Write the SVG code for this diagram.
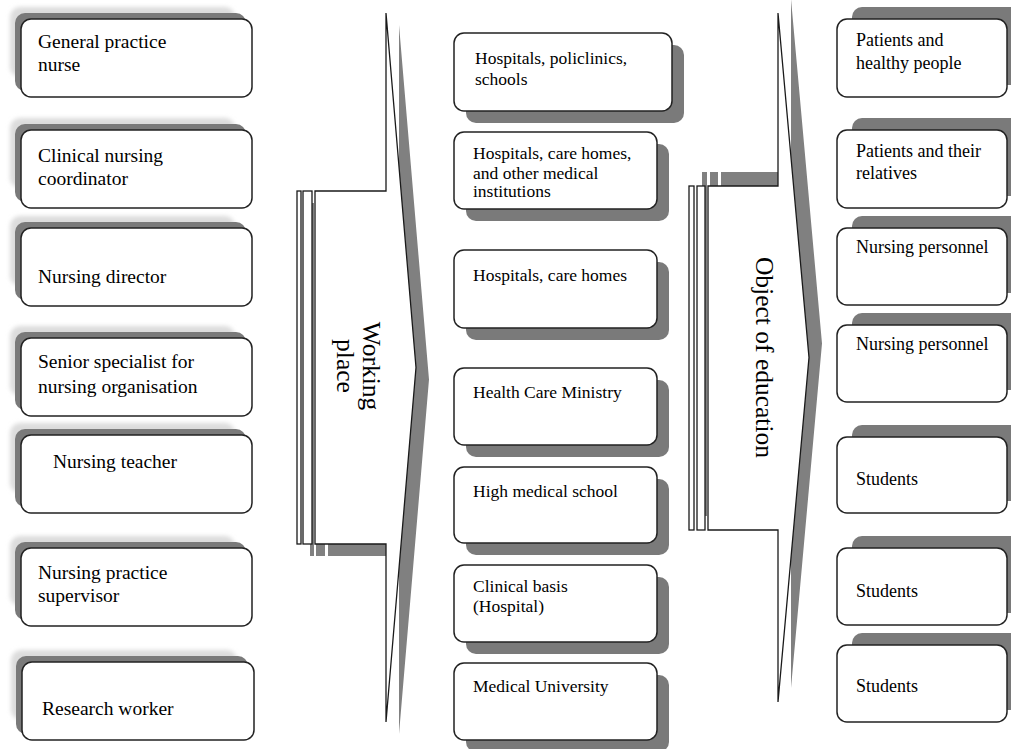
<svg xmlns="http://www.w3.org/2000/svg" width="1011" height="749" viewBox="0 0 1011 749" font-family="'Liberation Serif', 'Times New Roman', serif">
<defs>
<filter id="soft" x="-10%" y="-10%" width="120%" height="120%"><feGaussianBlur stdDeviation="0.6"/></filter>
<filter id="halo" x="-10%" y="-20%" width="120%" height="140%"><feGaussianBlur stdDeviation="2"/></filter>
<style>
.box{fill:#fff;stroke:#222;stroke-width:1.5}
.shd{fill:#7a7a7a;filter:url(#soft)}
.hal{fill:#dcdcdc;filter:url(#halo)}
.arr{fill:#fff;stroke:#1a1a1a;stroke-width:1.3;stroke-linejoin:miter}
.ashd{fill:#808080}
.tl,.tm,.tr,.rot{font-family:'Liberation Serif','Times New Roman',serif;fill:#000}
.tl{font-size:19.5px}
.tm{font-size:17.5px}
.tr{font-size:18px}
.rot{font-size:25.5px;text-anchor:middle}
</style>
</defs>
<rect width="1011" height="749" fill="#fff"/>

<!-- connectors (block arrows) -->
<g id="connectors">
 <g id="arrow-working-place">
  <g class="ashd" transform="translate(13,12)" filter="url(#soft)">
   <path d="M315,191 H386 V13 L416,367.5 L386,722 V544 H315 Z"/>
   <rect x="297" y="191" width="4" height="353"/>
   <rect x="303" y="191" width="9" height="353"/>
  </g>
  <path class="arr" d="M315,191 H386 V13 L416,367.5 L386,722 V544 H315 Z"/>
  <rect class="arr" x="297" y="191" width="4" height="353"/>
  <rect class="arr" x="303" y="191" width="9" height="353"/>
  <text class="rot" font-family="Liberation Serif, serif" transform="translate(363,366) rotate(90)">Working</text>
  <text class="rot" font-family="Liberation Serif, serif" transform="translate(337,366) rotate(90)">place</text>
 </g>
 <g id="arrow-object-of-education">
  <g class="ashd" transform="translate(13,-14)" filter="url(#soft)">
   <path d="M708,186 H778 V13 L809,357.5 L778,702 V530 H708 Z"/>
   <rect x="689" y="186" width="5" height="344"/>
   <rect x="697" y="186" width="8" height="344"/>
  </g>
  <path class="arr" d="M708,186 H778 V13 L809,357.5 L778,702 V530 H708 Z"/>
  <rect class="arr" x="689" y="186" width="5" height="344"/>
  <rect class="arr" x="697" y="186" width="8" height="344"/>
  <text class="rot" font-family="Liberation Serif, serif" transform="translate(756,357.5) rotate(90)">Object of education</text>
 </g>
</g>

<!-- left column -->
<g font-family="Liberation Serif, serif">
<g id="left-general-practice-nurse">
 <rect class="hal" x="10" y="7" width="225" height="70" rx="10"/>
 <rect class="shd" x="15" y="13" width="231" height="78" rx="10"/>
 <rect class="box" x="21" y="19" width="231" height="78" rx="10"/>
 <text class="tl" font-family="Liberation Serif, serif" x="38" y="48">General practice</text>
 <text class="tl" font-family="Liberation Serif, serif" x="38" y="71">nurse</text>
</g>
<g id="left-clinical-nursing-coordinator">
 <rect class="hal" x="10" y="118" width="225" height="70" rx="10"/>
 <rect class="shd" x="15" y="124" width="231" height="78" rx="10"/>
 <rect class="box" x="21" y="130" width="231" height="78" rx="10"/>
 <text class="tl" font-family="Liberation Serif, serif" x="38" y="161.5">Clinical nursing</text>
 <text class="tl" font-family="Liberation Serif, serif" x="38" y="185">coordinator</text>
</g>
<g id="left-nursing-director">
 <rect class="hal" x="10" y="216" width="225" height="70" rx="10"/>
 <rect class="shd" x="15" y="222" width="231" height="78" rx="10"/>
 <rect class="box" x="21" y="228" width="231" height="78" rx="10"/>
 <text class="tl" font-family="Liberation Serif, serif" x="38" y="283">Nursing director</text>
</g>
<g id="left-senior-specialist">
 <rect class="hal" x="10" y="326" width="225" height="70" rx="10"/>
 <rect class="shd" x="15" y="332" width="231" height="78" rx="10"/>
 <rect class="box" x="21" y="338" width="231" height="78" rx="10"/>
 <text class="tl" font-family="Liberation Serif, serif" x="38" y="368">Senior specialist for</text>
 <text class="tl" font-family="Liberation Serif, serif" x="38" y="392.5">nursing organisation</text>
</g>
<g id="left-nursing-teacher">
 <rect class="hal" x="10" y="423" width="225" height="70" rx="10"/>
 <rect class="shd" x="15" y="429" width="231" height="78" rx="10"/>
 <rect class="box" x="21" y="435" width="231" height="78" rx="10"/>
 <text class="tl" font-family="Liberation Serif, serif" x="53" y="468">Nursing teacher</text>
</g>
<g id="left-nursing-practice-supervisor">
 <rect class="hal" x="10" y="536" width="225" height="70" rx="10"/>
 <rect class="shd" x="15" y="542" width="231" height="78" rx="10"/>
 <rect class="box" x="21" y="548" width="231" height="78" rx="10"/>
 <text class="tl" font-family="Liberation Serif, serif" x="38" y="579">Nursing practice</text>
 <text class="tl" font-family="Liberation Serif, serif" x="38" y="601.5">supervisor</text>
</g>
<g id="left-research-worker">
 <rect class="hal" x="11" y="650" width="226" height="70" rx="10"/>
 <rect class="shd" x="16" y="656" width="232" height="78" rx="10"/>
 <rect class="box" x="22" y="662" width="232" height="78" rx="10"/>
 <text class="tl" font-family="Liberation Serif, serif" x="42" y="715">Research worker</text>
</g>
</g>

<!-- middle column -->
<g font-family="Liberation Serif, serif">
<g id="mid-hospitals-policlinics-schools">
 <rect class="shd" x="466" y="45" width="218" height="78" rx="10"/>
 <rect class="box" x="454" y="33" width="218" height="78" rx="10"/>
 <text class="tm" font-family="Liberation Serif, serif" x="475" y="64">Hospitals, policlinics,</text>
 <text class="tm" font-family="Liberation Serif, serif" x="475" y="84.5">schools</text>
</g>
<g id="mid-hospitals-care-homes-other">
 <rect class="shd" x="466" y="144" width="203" height="77" rx="10"/>
 <rect class="box" x="454" y="132" width="203" height="77" rx="10"/>
 <text class="tm" font-family="Liberation Serif, serif" x="473" y="159">Hospitals, care homes,</text>
 <text class="tm" font-family="Liberation Serif, serif" x="473" y="178.5">and other medical</text>
 <text class="tm" font-family="Liberation Serif, serif" x="473" y="197">institutions</text>
</g>
<g id="mid-hospitals-care-homes">
 <rect class="shd" x="466" y="262" width="203" height="78" rx="10"/>
 <rect class="box" x="454" y="250" width="203" height="78" rx="10"/>
 <text class="tm" font-family="Liberation Serif, serif" x="473" y="280.5">Hospitals, care homes</text>
</g>
<g id="mid-health-care-ministry">
 <rect class="shd" x="466" y="380" width="203" height="77" rx="10"/>
 <rect class="box" x="454" y="368" width="203" height="77" rx="10"/>
 <text class="tm" font-family="Liberation Serif, serif" x="473" y="398">Health Care Ministry</text>
</g>
<g id="mid-high-medical-school">
 <rect class="shd" x="466" y="479" width="203" height="76" rx="10"/>
 <rect class="box" x="454" y="467" width="203" height="76" rx="10"/>
 <text class="tm" font-family="Liberation Serif, serif" x="473" y="497">High medical school</text>
</g>
<g id="mid-clinical-basis">
 <rect class="shd" x="466" y="577" width="203" height="77" rx="10"/>
 <rect class="box" x="454" y="565" width="203" height="77" rx="10"/>
 <text class="tm" font-family="Liberation Serif, serif" x="473" y="592">Clinical basis</text>
 <text class="tm" font-family="Liberation Serif, serif" x="473" y="612">(Hospital)</text>
</g>
<g id="mid-medical-university">
 <rect class="shd" x="466" y="675" width="203" height="77" rx="10"/>
 <rect class="box" x="454" y="663" width="203" height="77" rx="10"/>
 <text class="tm" font-family="Liberation Serif, serif" x="473" y="692">Medical University</text>
</g>
</g>

<!-- right column -->
<g font-family="Liberation Serif, serif">
<g id="right-patients-healthy">
 <rect class="shd" x="852" y="7" width="170" height="78" rx="10"/>
 <rect class="box" x="837" y="19" width="170" height="78" rx="10"/>
 <text class="tr" font-family="Liberation Serif, serif" x="856" y="46">Patients and</text>
 <text class="tr" font-family="Liberation Serif, serif" x="856" y="68.5">healthy people</text>
</g>
<g id="right-patients-relatives">
 <rect class="shd" x="852" y="118" width="170" height="78" rx="10"/>
 <rect class="box" x="837" y="130" width="170" height="78" rx="10"/>
 <text class="tr" font-family="Liberation Serif, serif" x="856" y="157">Patients and their</text>
 <text class="tr" font-family="Liberation Serif, serif" x="856" y="178.5">relatives</text>
</g>
<g id="right-nursing-personnel-1">
 <rect class="shd" x="852" y="216" width="170" height="77" rx="10"/>
 <rect class="box" x="837" y="228" width="170" height="77" rx="10"/>
 <text class="tr" font-family="Liberation Serif, serif" x="856" y="253">Nursing personnel</text>
</g>
<g id="right-nursing-personnel-2">
 <rect class="shd" x="852" y="313" width="170" height="77" rx="10"/>
 <rect class="box" x="837" y="325" width="170" height="77" rx="10"/>
 <text class="tr" font-family="Liberation Serif, serif" x="856" y="350">Nursing personnel</text>
</g>
<g id="right-students-1">
 <rect class="shd" x="852" y="425" width="170" height="76" rx="10"/>
 <rect class="box" x="837" y="437" width="170" height="76" rx="10"/>
 <text class="tr" font-family="Liberation Serif, serif" x="856" y="485">Students</text>
</g>
<g id="right-students-2">
 <rect class="shd" x="852" y="536" width="170" height="77" rx="10"/>
 <rect class="box" x="837" y="548" width="170" height="77" rx="10"/>
 <text class="tr" font-family="Liberation Serif, serif" x="856" y="597">Students</text>
</g>
<g id="right-students-3">
 <rect class="shd" x="852" y="633" width="170" height="77" rx="10"/>
 <rect class="box" x="837" y="645" width="170" height="77" rx="10"/>
 <text class="tr" font-family="Liberation Serif, serif" x="856" y="692">Students</text>
</g>
</g>
</svg>
